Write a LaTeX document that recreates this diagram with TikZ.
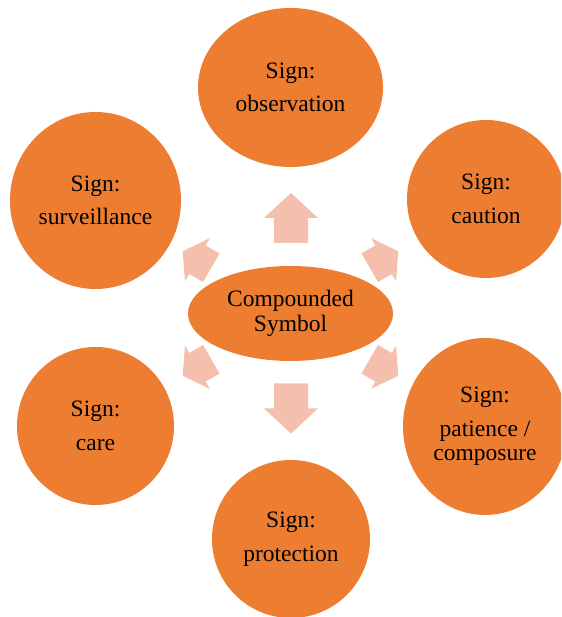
\documentclass[tikz,border=0pt]{standalone}
\usepackage{fontspec}
\setmainfont{Liberation Serif}
\usetikzlibrary{shapes.geometric}

\definecolor{signorange}{HTML}{ED7D31}
\definecolor{arrowpeach}{HTML}{F4C0AD}

\tikzset{
  sign/.style={ellipse, fill=signorange, inner sep=0pt, align=center,
    font=\fontsize{23.5}{24.5}\selectfont, text=black},
  pics/blockarrow/.style n args={4}{code={
    % length, head length, head width, shaft width
    \fill[arrowpeach] (-#1/2, #4/2) -- (#1/2-#2, #4/2) -- (#1/2-#2, #3/2)
      -- (#1/2, 0) -- (#1/2-#2, -#3/2) -- (#1/2-#2, -#4/2)
      -- (-#1/2, -#4/2) -- cycle;
  }}
}

\begin{document}
\begin{tikzpicture}[x=1pt, y=1pt]
  \useasboundingbox (0,0) rectangle (561,617);
  \clip (0,0) rectangle (561,617);

  % hub
  \node[sign, minimum width=205pt, minimum height=95pt] (hub) at (290.5,303.5)
    {Compounded\\Symbol};

  % surrounding signs
  \node[sign, minimum width=185pt, minimum height=159pt] (observation) at (290.5,529.5)
    {Sign:\\[9pt]observation};
  \node[sign, minimum width=171pt, minimum height=177pt] (surveillance) at (95.5,416.5)
    {Sign:\\[9pt]surveillance};
  \node[sign, minimum width=158pt, minimum height=158pt] (caution) at (486,418)
    {Sign:\\[9pt]caution};
  \node[sign, minimum width=157pt, minimum height=158pt] (care) at (95.5,191)
    {Sign:\\[9pt]care};
  \node[sign, minimum width=164pt, minimum height=177pt] (patience) at (485,190.5)
    {Sign:\\[9pt]patience /\\composure};
  \node[sign, minimum width=158pt, minimum height=158pt] (protection) at (291,78)
    {Sign:\\[9pt]protection};

  % block arrows radiating from the hub
  \pic[rotate=90]  at (291,399)   {blockarrow={50}{25}{54}{34}};
  \pic[rotate=-90] at (291,208.5) {blockarrow={50}{25}{54}{34}};
  \pic[rotate=150] at (197,357.5) {blockarrow={33}{17}{50}{33}};
  \pic[rotate=210] at (197,249.5) {blockarrow={33}{17}{50}{33}};
  \pic[rotate=30]  at (384,357.5) {blockarrow={33}{17}{50}{33}};
  \pic[rotate=-30] at (384,249.5) {blockarrow={33}{17}{50}{33}};
\end{tikzpicture}
\end{document}
